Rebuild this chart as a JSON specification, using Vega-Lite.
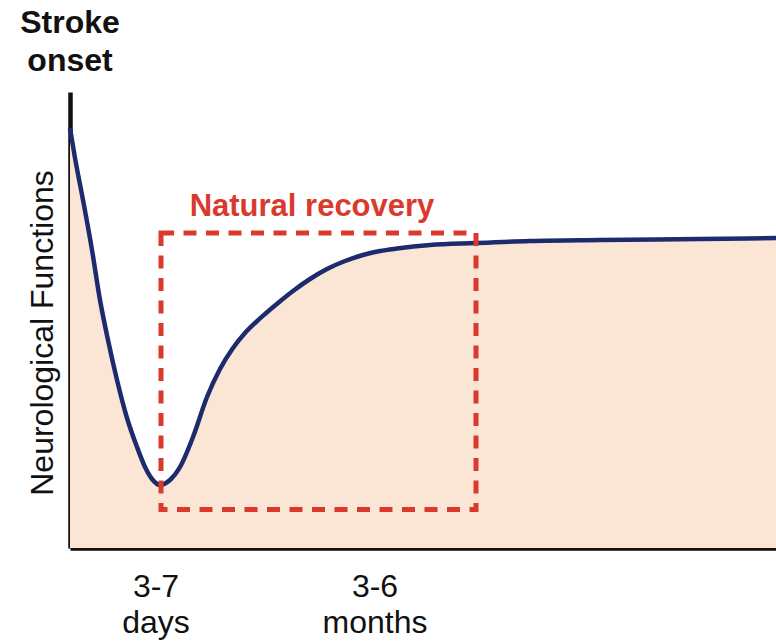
{
  "$schema": "https://vega.github.io/schema/vega-lite/v6.json",
  "width": 706,
  "height": 456,
  "autosize": {"type": "none"},
  "padding": {"left": 70, "top": 92, "right": 0, "bottom": 93},
  "background": "white",
  "config": {"view": {"stroke": null}, "font": "Liberation Sans"},
  "datasets": {
    "curve": [
      {"x": 0, "y": 420}, {"x": 5, "y": 390}, {"x": 13, "y": 348}, {"x": 22, "y": 298},
      {"x": 30, "y": 248}, {"x": 38, "y": 208}, {"x": 47, "y": 168}, {"x": 57, "y": 130},
      {"x": 67, "y": 101}, {"x": 75, "y": 81}, {"x": 82, "y": 69}, {"x": 90, "y": 63},
      {"x": 96, "y": 65}, {"x": 100, "y": 68}, {"x": 110, "y": 81}, {"x": 123, "y": 111},
      {"x": 137, "y": 151}, {"x": 150, "y": 179}, {"x": 163, "y": 200}, {"x": 175, "y": 215},
      {"x": 185, "y": 225}, {"x": 195, "y": 234}, {"x": 208, "y": 245}, {"x": 223, "y": 257},
      {"x": 240, "y": 269}, {"x": 257, "y": 279}, {"x": 275, "y": 287}, {"x": 293, "y": 293},
      {"x": 310, "y": 297}, {"x": 327, "y": 299.5}, {"x": 360, "y": 303},
      {"x": 405, "y": 305}, {"x": 460, "y": 307}, {"x": 530, "y": 308}, {"x": 630, "y": 309},
      {"x": 706, "y": 310}
    ],
    "box": [{"x": 91, "x2": 406, "y": 38.5, "y2": 315}],
    "xlabels": [{"x": 86, "y": -49, "label": "3-7\ndays"}, {"x": 305, "y": -49, "label": "3-6\nmonths"}],
    "onset": [{"x": 0, "y": 515, "label": "Stroke\nonset"}],
    "recovery": [{"x": 242, "y": 332, "label": "Natural recovery"}],
    "ytitle": [{"x": -17, "y": 215, "label": "Neurological Functions"}]
  },
  "layer": [
    {
      "data": {"name": "curve"},
      "mark": {"type": "area", "interpolate": "monotone", "color": "#fbe6d5"},
      "encoding": {
        "x": {"field": "x", "type": "quantitative", "scale": {"domain": [0, 706], "nice": false, "zero": false},
              "axis": {"domain": true, "domainColor": "#111111", "domainWidth": 4.5, "ticks": false, "labels": false, "grid": false, "title": null}},
        "y": {"field": "y", "type": "quantitative", "scale": {"domain": [0, 456], "nice": false, "zero": false},
              "axis": {"domain": true, "domainColor": "#111111", "domainWidth": 4.5, "ticks": false, "labels": false, "grid": false, "title": null}}
      }
    },
    {
      "data": {"name": "curve"},
      "mark": {"type": "line", "interpolate": "monotone", "color": "#1d2b6e", "strokeWidth": 4.5},
      "encoding": {
        "x": {"field": "x", "type": "quantitative"},
        "y": {"field": "y", "type": "quantitative"}
      }
    },
    {
      "data": {"name": "box"},
      "mark": {"type": "rect", "fill": null, "fillOpacity": 0, "stroke": "#da3a2d", "strokeWidth": 5, "strokeDash": [13, 9.5]},
      "encoding": {
        "x": {"field": "x", "type": "quantitative"},
        "x2": {"field": "x2"},
        "y": {"field": "y", "type": "quantitative"},
        "y2": {"field": "y2"}
      }
    },
    {
      "data": {"name": "recovery"},
      "mark": {"type": "text", "font": "Liberation Sans", "fontSize": 31, "fontWeight": "bold", "color": "#da3a2d", "align": "center", "baseline": "alphabetic"},
      "encoding": {
        "x": {"field": "x", "type": "quantitative"},
        "y": {"field": "y", "type": "quantitative"},
        "text": {"field": "label"}
      }
    },
    {
      "data": {"name": "xlabels"},
      "mark": {"type": "text", "font": "Liberation Sans", "fontSize": 32, "color": "#111111", "align": "center", "baseline": "alphabetic", "lineBreak": "\n", "lineHeight": 36},
      "encoding": {
        "x": {"field": "x", "type": "quantitative"},
        "y": {"field": "y", "type": "quantitative"},
        "text": {"field": "label"}
      }
    },
    {
      "data": {"name": "onset"},
      "mark": {"type": "text", "font": "Liberation Sans", "fontSize": 32, "fontWeight": "bold", "color": "#111111", "align": "center", "baseline": "alphabetic", "lineBreak": "\n", "lineHeight": 38},
      "encoding": {
        "x": {"field": "x", "type": "quantitative"},
        "y": {"field": "y", "type": "quantitative"},
        "text": {"field": "label"}
      }
    },
    {
      "data": {"name": "ytitle"},
      "mark": {"type": "text", "font": "Liberation Sans", "fontSize": 32, "color": "#111111", "align": "center", "baseline": "alphabetic", "angle": 270},
      "encoding": {
        "x": {"field": "x", "type": "quantitative"},
        "y": {"field": "y", "type": "quantitative"},
        "text": {"field": "label"}
      }
    }
  ]
}
